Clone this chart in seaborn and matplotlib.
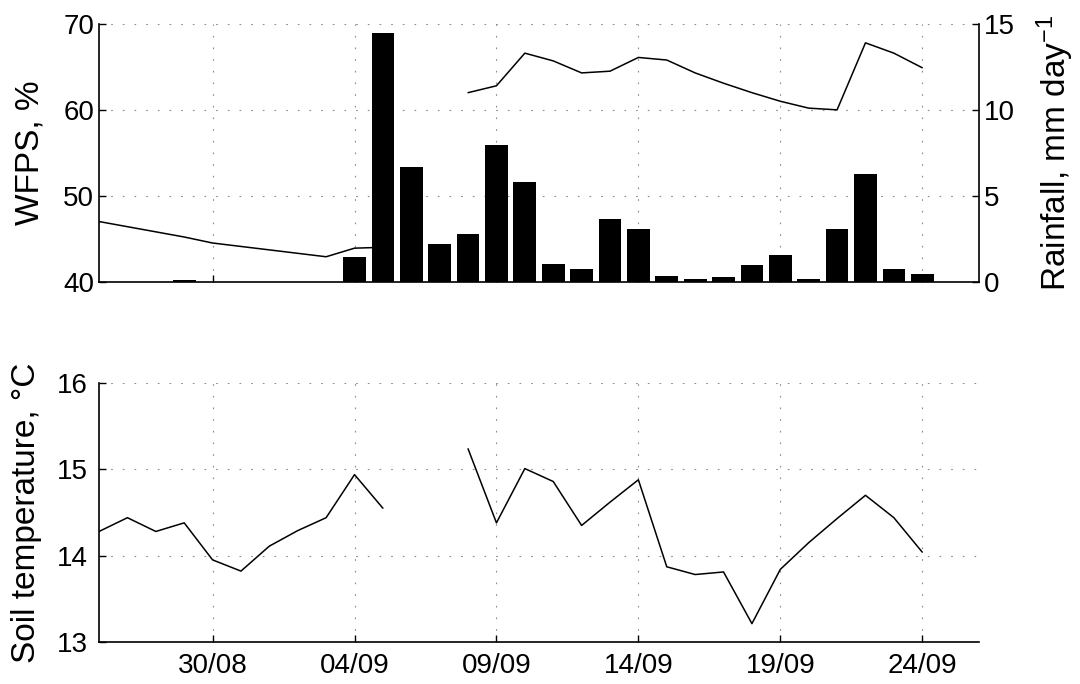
import numpy as np
import pandas as pd
import matplotlib
matplotlib.use("Agg")
import matplotlib.pyplot as plt
import seaborn as sns

# ---------------- data ----------------
dates = ["26/08", "27/08", "28/08", "29/08", "30/08", "31/08", "01/09", "02/09",
         "03/09", "04/09", "05/09", "06/09", "07/09", "08/09", "09/09", "10/09",
         "11/09", "12/09", "13/09", "14/09", "15/09", "16/09", "17/09", "18/09",
         "19/09", "20/09", "21/09", "22/09", "23/09", "24/09"]

wfps = [47.0, 46.4, 45.8, 45.2, 44.5, 44.1, 43.7, 43.3, 42.9, 43.9,
        44.0, np.nan, np.nan, 62.0, 62.8, 66.6, 65.7, 64.3, 64.5, 66.1,
        65.8, 64.3, 63.1, 62.0, 61.0, 60.2, 60.0, 67.8, 66.6, 64.9]

rainfall = [0.0, 0.0, 0.0, 0.1, 0.0, 0.0, 0.0, 0.0, 0.0, 1.43,
            14.46, 6.67, 2.2, 2.77, 7.95, 5.8, 1.05, 0.74, 3.67, 3.08,
            0.35, 0.15, 0.25, 0.97, 1.55, 0.15, 3.08, 6.28, 0.74, 0.45]

soil_temp = [14.28, 14.44, 14.28, 14.38, 13.95, 13.82, 14.11, 14.29, 14.44, 14.94,
             14.55, np.nan, np.nan, 15.24, 14.38, 15.01, 14.86, 14.35, 14.62, 14.88,
             13.87, 13.78, 13.81, 13.21, 13.84, 14.15, 14.43, 14.70, 14.44, 14.04]

tick_labels = ["30/08", "04/09", "09/09", "14/09", "19/09", "24/09"]
wfps_ticks = [40, 50, 60, 70]
rain_ticks = [0, 5, 10, 15]
temp_ticks = [13, 14, 15, 16]

# ---------------- style ----------------
sns.set_style("white")
plt.rcParams["font.family"] = ["Liberation Sans", "DejaVu Sans"]
plt.rcParams["mathtext.fontset"] = "custom"
plt.rcParams["mathtext.rm"] = "Liberation Sans"
plt.rcParams["mathtext.it"] = "Liberation Sans"
plt.rcParams["text.color"] = "black"
plt.rcParams["axes.labelcolor"] = "black"
plt.rcParams["xtick.color"] = "black"
plt.rcParams["ytick.color"] = "black"

day = np.arange(len(dates), dtype=float)
tick_pos = [dates.index(t) for t in tick_labels]

df = pd.DataFrame({"day": day, "wfps": wfps, "rain": rainfall, "temp": soil_temp})
df["seg"] = np.cumsum(df["wfps"].isna())

fig = plt.figure(figsize=(10.8, 6.84), dpi=100)
ax1 = fig.add_axes([0.0917, 0.5882, 0.8148, 0.3768])
ax3 = fig.add_axes([0.0917, 0.0618, 0.8148, 0.3778])

grid_kw = dict(linestyle=(0, (1.5, 9)), color="#8a8a8a", linewidth=0.8)

# ---- top panel: WFPS line + rainfall bars ----
d_w = df.dropna(subset=["wfps"])
sns.lineplot(data=d_w, x="day", y="wfps", units="seg", estimator=None,
             color="black", linewidth=1.1, ax=ax1)
ax1.set_ylim(40, 70)
ax1.set_yticks(wfps_ticks)
ax1.set_xlim(0, 31)
ax1.set_xticks(tick_pos)
ax1.set_xticklabels([])
ax1.grid(True, **grid_kw)
ax1.set_xlabel("")
ax1.set_ylabel("WFPS, %", fontsize=24, labelpad=13)

ax2 = ax1.twinx()
sns.barplot(x=df["day"], y=df["rain"], native_scale=True, width=0.8,
            color="black", saturation=1, errorbar=None, linewidth=0, ax=ax2)
ax2.set_ylim(0, 15)
ax2.set_yticks(rain_ticks)
ax2.set_xlim(0, 31)
ax2.grid(False)
ax2.set_xlabel("")
ax2.set_ylabel("Rainfall, mm day$^{-1}$", fontsize=24, labelpad=14)
ax1.set_xlim(0, 31)
ax1.set_xticks(tick_pos)

for a in (ax1, ax2):
    for s in a.spines.values():
        s.set_color("black")
        s.set_linewidth(1.2)
ax1.spines["top"].set_visible(False)
ax1.spines["right"].set_visible(False)
ax2.spines["top"].set_visible(False)
ax2.spines["left"].set_visible(False)
ax2.spines["bottom"].set_visible(False)
ax1.tick_params(axis="both", direction="in", length=5, width=1, labelsize=20,
                labelbottom=False, bottom=True, left=True)
ax2.tick_params(axis="y", direction="in", length=5, width=1, labelsize=20, right=True)
ax2.tick_params(axis="x", bottom=False, labelbottom=False)

# ---- bottom panel: soil temperature ----
d_t = df.dropna(subset=["temp"])
sns.lineplot(data=d_t, x="day", y="temp", units="seg", estimator=None,
             color="black", linewidth=1.1, ax=ax3)
ax3.set_ylim(13, 16)
ax3.set_yticks(temp_ticks)
ax3.set_xlim(0, 31)
ax3.set_xticks(tick_pos)
ax3.set_xticklabels(tick_labels)
ax3.grid(True, **grid_kw)
ax3.set_xlabel("")
ax3.set_ylabel("Soil temperature, °C", fontsize=24, labelpad=11)
for s in ax3.spines.values():
    s.set_color("black")
    s.set_linewidth(1.2)
ax3.spines["top"].set_visible(False)
ax3.spines["right"].set_visible(False)
ax3.tick_params(axis="both", direction="in", length=5, width=1, labelsize=20,
                bottom=True, left=True, pad=8)

fig.savefig("out.png", dpi=100)
